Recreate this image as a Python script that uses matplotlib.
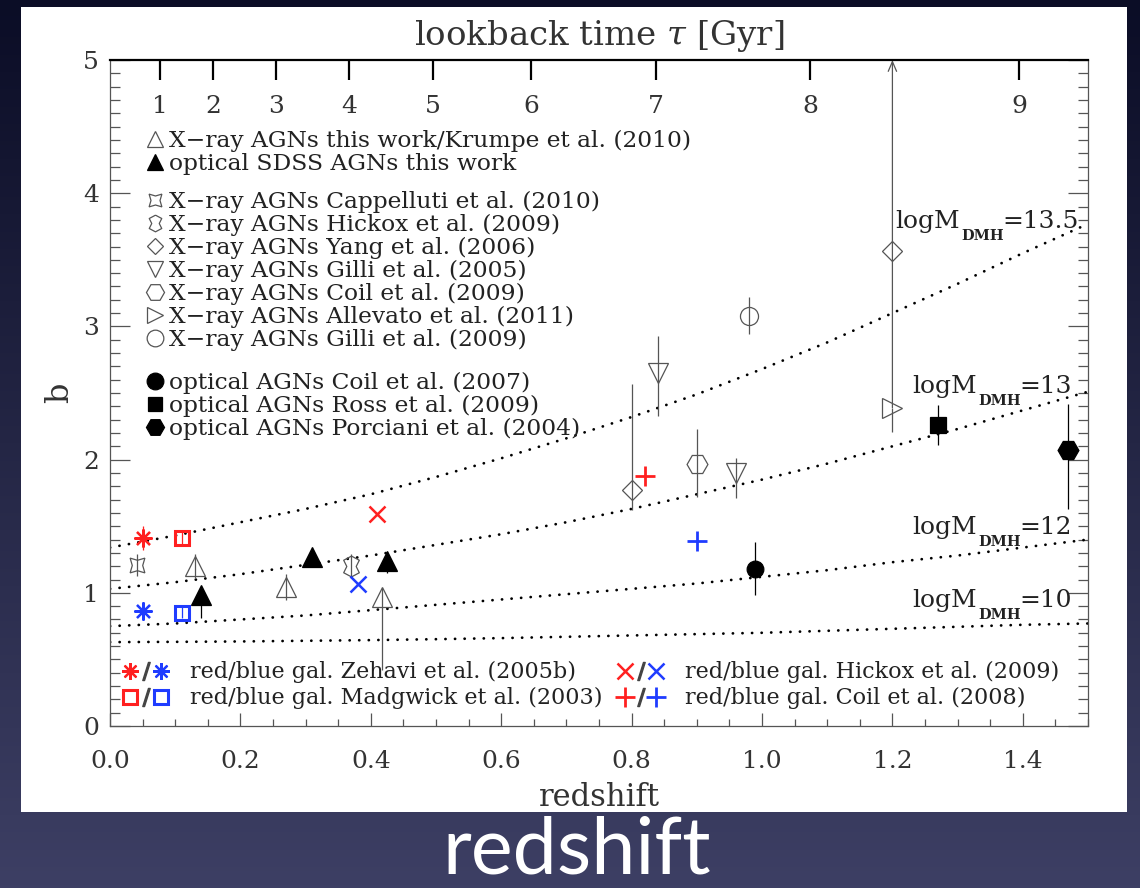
import numpy as np
import matplotlib
matplotlib.use('Agg')
import matplotlib.pyplot as plt
from matplotlib.lines import Line2D
from matplotlib.path import Path
from matplotlib.patches import Rectangle
from matplotlib.colors import LinearSegmentedColormap
from matplotlib.legend_handler import HandlerTuple
from matplotlib.ticker import MultipleLocator, NullLocator, FormatStrFormatter

plt.rcParams['font.family'] = ['DejaVu Serif']
plt.rcParams['mathtext.fontset'] = 'dejavuserif'

# top axis: lookback time (Gyr) and the redshift where each tick sits
tau_labels = ['1', '2', '3', '4', '5', '6', '7', '8', '9']
tau_z = [0.077, 0.158, 0.255, 0.367, 0.495, 0.646, 0.837, 1.074, 1.394]

# bias tracks for fixed dark matter halo mass
track_z = [0.0, 0.1, 0.2, 0.3, 0.4, 0.5, 0.6, 0.7, 0.8, 0.9, 1.0, 1.1, 1.2, 1.3, 1.4, 1.5]
b_m135 = [1.34, 1.43, 1.53, 1.63, 1.74, 1.87, 2.01, 2.16, 2.32, 2.49, 2.68, 2.88, 3.10, 3.32, 3.55, 3.77]
b_m13 = [1.03, 1.08, 1.14, 1.21, 1.28, 1.36, 1.44, 1.53, 1.63, 1.74, 1.85, 1.97, 2.10, 2.23, 2.37, 2.51]
b_m12 = [0.75, 0.77, 0.80, 0.83, 0.87, 0.91, 0.95, 0.99, 1.03, 1.07, 1.12, 1.17, 1.23, 1.28, 1.34, 1.40]
b_m10 = [0.63, 0.632, 0.635, 0.64, 0.645, 0.652, 0.66, 0.67, 0.68, 0.69, 0.70, 0.715, 0.73, 0.745, 0.76, 0.77]
mass_labels = ['13.5', '13', '12', '10']

# X-ray AGNs this work / Krumpe et al. (2010)
xray_z = [0.13, 0.27, 0.417]
xray_b = [1.20, 1.045, 0.97]
xray_lo = [0.09, 0.10, 0.55]
xray_hi = [0.09, 0.10, 0.07]
# optical SDSS AGNs this work
sdss_z = [0.14, 0.31, 0.425]
sdss_b = [0.98, 1.27, 1.24]
sdss_lo = [0.17, 0.05, 0.09]
sdss_hi = [0.05, 0.05, 0.07]
# other X-ray samples
capp_z, capp_b, capp_e = [0.042], [1.21], [0.08]
hick_z, hick_b, hick_e = [0.37], [1.20], [0.09]
yang_z = [0.80, 1.20]
yang_b = [1.77, 3.57]
yang_lo = [0.15, 0.0]
yang_hi = [0.80, 0.0]
gilli05_z = [0.84, 0.96]
gilli05_b = [2.65, 1.90]
gilli05_lo = [0.32, 0.19]
gilli05_hi = [0.28, 0.11]
coil09_z, coil09_b, coil09_lo, coil09_hi = [0.90], [1.97], [0.25], [0.26]
allev_z, allev_b, allev_lo = [1.20], [2.39], [0.18]
gilli09_z, gilli09_b, gilli09_e = [0.98], [3.08], [0.14]
# optical AGNs
coil07_z, coil07_b, coil07_e = [0.99], [1.18], [0.20]
ross_z, ross_b, ross_e = [1.27], [2.26], [0.15]
porc_z, porc_b, porc_lo, porc_hi = [1.47], [2.07], [0.44], [0.35]
# red / blue galaxies
zeh_z = [0.05]
zeh_red, zeh_red_e = [1.41], [0.09]
zeh_blue, zeh_blue_e = [0.86], [0.02]
madg_z = [0.11]
madg_red, madg_red_e = [1.41], [0.05]
madg_blue, madg_blue_e = [0.85], [0.04]
hickgal_red_z, hickgal_red = [0.41], [1.59]
hickgal_blue_z, hickgal_blue = [0.38], [1.07]
coilgal_red_z, coilgal_red = [0.82], [1.88]
coilgal_blue_z, coilgal_blue = [0.90], [1.39]

grey = '#555555'
red = '#ff2020'
blue = '#1f3cff'
txt = '#222222'
hick_marker = Path([(0, 1), (0.75, 0.6), (0.45, 0.0), (0.75, -0.6), (0, -1),
                    (-0.75, -0.6), (-0.45, 0.0), (-0.75, 0.6), (0, 1)])
capp_marker = (4, 1, 45)
aster = (8, 2, 0)

fig = plt.figure(figsize=(11.4, 8.88), dpi=100)

# slide background + white panel
bg = fig.add_axes([0, 0, 1, 1], zorder=-10)
bg.imshow(np.linspace(0, 1, 256)[:, None], aspect='auto', extent=[0, 1, 0, 1],
          cmap=LinearSegmentedColormap.from_list('slide', ['#0b0d26', '#3d3f64']))
bg.axis('off')
fig.add_artist(Rectangle((0.0184, 0.0856), 0.9702, 0.9065, transform=fig.transFigure,
                         facecolor='white', edgecolor='none', zorder=-5))

ax = fig.add_axes([0.0965, 0.1824, 0.8579, 0.75])
ax.set_xlim(0, 1.5)
ax.set_ylim(0, 5)

# halo mass tracks
for bb in [b_m135, b_m13, b_m12, b_m10]:
    ax.plot(track_z, bb, color='black', lw=2.0, ls=(0, (0.05, 3.4)), dash_capstyle='round')

def mass_label(z, b, val):
    ax.text(z, b, 'logM', fontsize=18, color=txt, va='baseline')
    ax.annotate('DMH', xy=(z, b), xytext=(66, -12), textcoords='offset pixels',
                fontsize=10.5, fontweight='bold', color=txt, va='baseline')
    ax.annotate('=' + val, xy=(z, b), xytext=(107, 0), textcoords='offset pixels',
                fontsize=18, color=txt, va='baseline')

mass_label(1.204, 3.74, mass_labels[0])
mass_label(1.23, 2.50, mass_labels[1])
mass_label(1.23, 1.44, mass_labels[2])
mass_label(1.23, 0.89, mass_labels[3])

eb = dict(capsize=0, elinewidth=0.9, mew=0.9)
ax.errorbar(xray_z, xray_b, yerr=[xray_lo, xray_hi], fmt='^', ms=15, mfc='none', mec=grey, ecolor=grey, **eb)
ax.errorbar(sdss_z, sdss_b, yerr=[sdss_lo, sdss_hi], fmt='^', ms=14, color='black', **eb)
ax.errorbar(capp_z, capp_b, yerr=capp_e, fmt='none', ecolor=grey, **eb)
ax.plot(capp_z, capp_b, ls='none', marker=capp_marker, ms=15, mfc='none', mec=grey, mew=0.9)
ax.errorbar(hick_z, hick_b, yerr=hick_e, fmt='none', ecolor=grey, **eb)
ax.plot(hick_z, hick_b, ls='none', marker=hick_marker, ms=15, mfc='none', mec=grey, mew=0.9)
ax.errorbar(yang_z, yang_b, yerr=[yang_lo, yang_hi], fmt='D', ms=10, mfc='none', mec=grey, ecolor=grey, **eb)
ax.errorbar(gilli05_z, gilli05_b, yerr=[gilli05_lo, gilli05_hi], fmt='v', ms=15, mfc='none', mec=grey, ecolor=grey, **eb)
ax.errorbar(coil09_z, coil09_b, yerr=[coil09_lo, coil09_hi], fmt='H', ms=15, mfc='none', mec=grey, ecolor=grey, **eb)
ax.errorbar(allev_z, allev_b, yerr=[allev_lo, [0.0]], fmt='>', ms=15, mfc='none', mec=grey, ecolor=grey, **eb)
ax.annotate('', xy=(allev_z[0], 5.0), xytext=(allev_z[0], allev_b[0]), annotation_clip=False,
            arrowprops=dict(arrowstyle='->,head_length=0.7,head_width=0.3', color=grey, lw=0.9,
                            shrinkA=0, shrinkB=0))
ax.errorbar(gilli09_z, gilli09_b, yerr=gilli09_e, fmt='o', ms=13, mfc='none', mec=grey, ecolor=grey, **eb)
ax.errorbar(coil07_z, coil07_b, yerr=coil07_e, fmt='o', ms=12, color='black', **eb)
ax.errorbar(ross_z, ross_b, yerr=ross_e, fmt='s', ms=11, color='black', **eb)
ax.errorbar(porc_z, porc_b, yerr=[porc_lo, porc_hi], fmt='H', ms=15, color='black', **eb)

ax.errorbar(zeh_z, zeh_red, yerr=zeh_red_e, fmt='none', ecolor=red, **eb)
ax.plot(zeh_z, zeh_red, ls='none', marker=aster, ms=13, color=red, mew=1.6)
ax.errorbar(zeh_z, zeh_blue, yerr=zeh_blue_e, fmt='none', ecolor=blue, **eb)
ax.plot(zeh_z, zeh_blue, ls='none', marker=aster, ms=13, color=blue, mew=1.6)
ax.errorbar(madg_z, madg_red, yerr=madg_red_e, fmt='s', ms=10, mfc='none', mec=red, ecolor=red, capsize=0, elinewidth=0.9, mew=2.2)
ax.errorbar(madg_z, madg_blue, yerr=madg_blue_e, fmt='s', ms=10, mfc='none', mec=blue, ecolor=blue, capsize=0, elinewidth=0.9, mew=2.2)
ax.plot(hickgal_red_z, hickgal_red, ls='none', marker='x', ms=11, color=red, mew=1.8)
ax.plot(hickgal_blue_z, hickgal_blue, ls='none', marker='x', ms=11, color=blue, mew=1.8)
ax.plot(coilgal_red_z, coilgal_red, ls='none', marker='+', ms=14, color=red, mew=2.0)
ax.plot(coilgal_blue_z, coilgal_blue, ls='none', marker='+', ms=14, color=blue, mew=2.0)

# axes styling
for s in ['left', 'right', 'bottom']:
    ax.spines[s].set_color(grey)
    ax.spines[s].set_linewidth(0.9)
ax.spines['top'].set_visible(False)
ax.xaxis.set_major_locator(MultipleLocator(0.2))
ax.xaxis.set_minor_locator(MultipleLocator(0.05))
ax.xaxis.set_major_formatter(FormatStrFormatter('%.1f'))
ax.yaxis.set_major_locator(MultipleLocator(1))
ax.yaxis.set_minor_locator(MultipleLocator(0.1))
ax.tick_params(axis='y', which='major', direction='in', length=14.4, width=0.9, color=grey,
               left=True, right=True, labelsize=18, labelcolor='#333', pad=8)
ax.tick_params(axis='y', which='minor', direction='in', length=7.2, width=0.9, color=grey,
               left=True, right=True)
ax.tick_params(axis='x', which='major', direction='in', length=9.4, width=0.9, color=grey,
               top=False, labelsize=18, labelcolor='#333', pad=17)
ax.tick_params(axis='x', which='minor', direction='in', length=5, width=0.9, color=grey, top=False)
ax.set_xlabel('redshift', fontsize=22, color='#333', labelpad=7)
ax.set_ylabel('b', fontsize=23, color='#333', labelpad=6)

ax2 = ax.twiny()
ax2.set_xlim(0, 1.5)
ax2.set_xticks(tau_z)
ax2.set_xticklabels(tau_labels)
ax2.xaxis.set_minor_locator(NullLocator())
ax2.tick_params(axis='x', direction='in', length=14.4, width=1.6, color='black',
                labelsize=18, labelcolor='#333', pad=-42)
for s in ['left', 'right', 'bottom']:
    ax2.spines[s].set_visible(False)
ax2.spines['top'].set_linewidth(1.6)
ax2.spines['top'].set_color('black')
ax.text(0.5, 1.0225, r'lookback time $\tau$ [Gyr]', transform=ax.transAxes, ha='center',
        va='baseline', fontsize=24.5, color='#333')

# legends
def mk(marker, ms=11, fill=False, color=grey, mew=0.9):
    return Line2D([], [], ls='none', marker=marker, ms=ms, mew=mew,
                  mec=color, mfc=color if fill else 'none')

lkw = dict(frameon=False, fontsize=16.8, handlelength=1.0, handletextpad=0.1,
           borderpad=0, borderaxespad=0, labelspacing=0.04, labelcolor=txt)
g1 = [mk('^', 12), mk('^', 12, True, 'black')]
l1 = ['X\u2212ray AGNs this work/Krumpe et al. (2010)', 'optical SDSS AGNs this work']
leg1 = ax.legend(g1, l1, loc='upper left', bbox_to_anchor=(0.0343, 0.895), **lkw)
ax.add_artist(leg1)
g2 = [mk(capp_marker, 13), mk(hick_marker, 12), mk('D', 8), mk('v', 12), mk('H', 13),
      mk('>', 12), mk('o', 12)]
l2 = ['X\u2212ray AGNs Cappelluti et al. (2010)', 'X\u2212ray AGNs Hickox et al. (2009)',
      'X\u2212ray AGNs Yang et al. (2006)', 'X\u2212ray AGNs Gilli et al. (2005)',
      'X\u2212ray AGNs Coil et al. (2009)', 'X\u2212ray AGNs Allevato et al. (2011)',
      'X\u2212ray AGNs Gilli et al. (2009)']
leg2 = ax.legend(g2, l2, loc='upper left', bbox_to_anchor=(0.0343, 0.803), **lkw)
ax.add_artist(leg2)
g3 = [mk('o', 12, True, 'black'), mk('s', 10, True, 'black'), mk('H', 13, True, 'black')]
l3 = ['optical AGNs Coil et al. (2007)', 'optical AGNs Ross et al. (2009)',
      'optical AGNs Porciani et al. (2004)']
leg3 = ax.legend(g3, l3, loc='upper left', bbox_to_anchor=(0.0343, 0.5315), **lkw)
ax.add_artist(leg3)

slash = Line2D([], [], ls='none', marker='$/$', ms=13, color='#444')
def pair(marker, ms, mew):
    r = Line2D([], [], ls='none', marker=marker, ms=ms, mew=mew, mec=red, mfc='none')
    b = Line2D([], [], ls='none', marker=marker, ms=ms, mew=mew, mec=blue, mfc='none')
    return (r, slash, b)

bkw = dict(frameon=False, fontsize=16.0, handlelength=2.1, handletextpad=0.95,
           borderpad=0, borderaxespad=0, labelspacing=0.18, labelcolor=txt,
           handler_map={tuple: HandlerTuple(ndivide=None, pad=0)})
leg4 = ax.legend([pair(aster, 12, 1.6), pair('s', 10, 2.2)],
                 ['red/blue gal. Zehavi et al. (2005b)', 'red/blue gal. Madgwick et al. (2003)'],
                 loc='lower left', bbox_to_anchor=(0.0128, 0.025), **bkw)
ax.add_artist(leg4)
ax.legend([pair('x', 11, 1.8), pair('+', 14, 2.0)],
          ['red/blue gal. Hickox et al. (2009)', 'red/blue gal. Coil et al. (2008)'],
          loc='lower left', bbox_to_anchor=(0.519, 0.025), **bkw)

fig.text(0.506, 0.001, 'redshift', color='white', fontsize=57, family='Lato',
         ha='center', va='bottom')

plt.savefig('out.png', dpi=100)
